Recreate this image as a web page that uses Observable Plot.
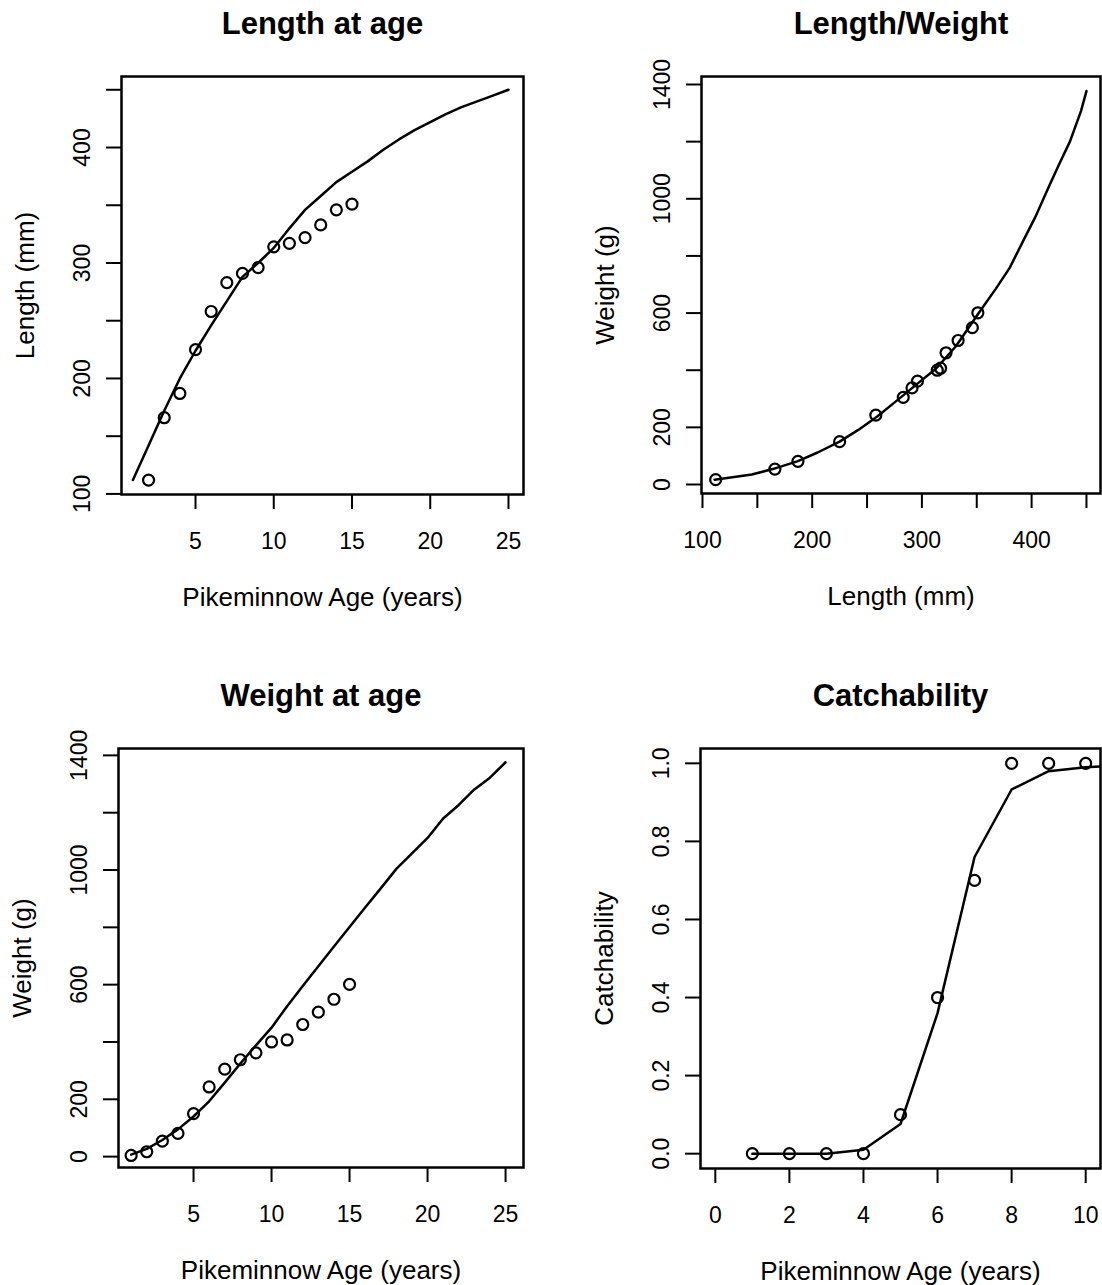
<!DOCTYPE html>
<html><head><meta charset="utf-8">
<script src="https://cdn.jsdelivr.net/npm/d3@7"></script>
<script src="https://cdn.jsdelivr.net/npm/@observablehq/plot@0.6"></script>
<style>
body{margin:0;background:#fff;}
#root{position:relative;width:1102px;height:1285px;overflow:hidden;background:#fff;}
.panel{position:absolute;}
</style></head><body><div id="root"></div>
<script>
// ---- data ----
const ageLine = [1,2,3,4,5,6,7,8,9,10,11,12,13,14,15,16,17,18,19,20,21,22,23,24,25];
const lengthPred = [112,142,172,200,224,246,267,288,300,313,330,346,358,370,379,388,398,407,415,422,429,435,440,445,450];
const weightPred = [7,27,58,95,140,193,258,325,388,450,525,595,664,733,801,869,936,1004,1058,1112,1180,1227,1281,1322,1376];

const ageObsLength = [2,3,4,5,6,7,8,9,10,11,12,13,14,15];
const lengthObs = [112,166,187,225,258,283,291,296,314,317,322,333,346,351];
const ageObsWeight = [1,2,3,4,5,6,7,8,9,10,11,12,13,14,15];
const weightObs = [4,17,54,81,150,243,305,338,362,400,407,461,504,549,601];

const lwLength = [111,145,164,187,205,225,242,259,276,296,313,331,351,367,380,393,403,416,425,435,445,450];
const lwWeight = [17,35,54,82,112,150,191,237,290,353,406,484,596,683,758,858,933,1045,1120,1201,1307,1377];

const catchAge = [1,2,3,4,5,6,7,8,9,10];
const catchObs = [0,0,0,0,0.1,0.4,0.7,1,1,1];
const catchLineAge = [1,2,3,4,5,6,7,8,9,10,11];
const catchPred = [0,0,0,0.01,0.076,0.36,0.76,0.933,0.98,0.99,0.995];

// ticks
const p1XTicks = [5,10,15,20,25];
const p1YTicks = [100,150,200,250,300,350,400,450];
const p1YLabels = [100,200,300,400];
const p2XTicks = [100,150,200,250,300,350,400,450];
const p2XLabels = [100,200,300,400];
const wYTicks = [0,200,400,600,800,1000,1200,1400];
const wYLabels = [0,200,600,1000,1400];
const p4XTicks = [0,2,4,6,8,10];
const p4YTicks = [0,0.2,0.4,0.6,0.8,1.0];

const FONT = "'Liberation Sans', Arial, Helvetica, sans-serif";

function panel(o) {
  const lineData = o.lineX.map((x, i) => ({x, y: o.lineY[i]}));
  const ptData = o.ptX.map((x, i) => ({x, y: o.ptY[i]}));
  const fmtY = o.yFormat || (d => String(d));
  const fmtX = o.xFormat || (d => String(d));
  const chart = Plot.plot({
    width: o.width, height: o.height,
    marginTop: o.m[0], marginRight: o.m[1], marginBottom: o.m[2], marginLeft: o.m[3],
    x: {domain: o.xDomain},
    y: {domain: o.yDomain},
    style: {fontFamily: FONT, background: "transparent", color: "black"},
    marks: [
      Plot.axisX(o.xTicks, {anchor: "bottom", tickSize: 15, strokeWidth: 2, fill: "none", label: null}),
      Plot.axisY(o.yTicks, {anchor: "left", tickSize: 15, strokeWidth: 2, fill: "none", label: null}),
      Plot.text(o.xLabels, {x: d => d, text: d => fmtX(d), frameAnchor: "bottom", dy: 47, fontSize: 23, lineAnchor: "middle", textAnchor: "middle", fill: "black"}),
      Plot.text(o.yLabels, {y: d => d, text: d => fmtY(d), frameAnchor: "left", dx: -39, rotate: -90, fontSize: 23, lineAnchor: "middle", textAnchor: "middle", fill: "black"}),
      Plot.text([o.xTitle], {text: d => d, frameAnchor: "bottom", dy: 103, fontSize: 26, lineAnchor: "middle", fill: "black"}),
      Plot.text([o.yTitle], {text: d => d, frameAnchor: "left", dx: -96, rotate: -90, fontSize: 26, lineAnchor: "middle", textAnchor: "middle", fill: "black"}),
      Plot.text([o.title], {text: d => d, frameAnchor: "top", dy: -52, fontSize: 31, fontWeight: "bold", lineAnchor: "middle", fill: "black"}),
      Plot.line(lineData, {x: "x", y: "y", stroke: "black", strokeWidth: 2.5, clip: true}),
      Plot.dot(ptData, {x: "x", y: "y", r: 5.5, stroke: "black", strokeWidth: 2.2, fill: "none"}),
      Plot.frame({stroke: "black", strokeWidth: 2.5})
    ]
  });
  const div = document.createElement("div");
  div.className = "panel";
  div.style.left = o.left + "px";
  div.style.top = o.top + "px";
  div.appendChild(chart);
  document.getElementById("root").appendChild(div);
}

panel({
  left: 0, top: 0, width: 551, height: 640, m: [76, 28, 146, 121],
  xDomain: [0.27, 25.96], yDomain: [99.5, 461.5],
  xTicks: p1XTicks, xLabels: p1XTicks, yTicks: p1YTicks, yLabels: p1YLabels,
  title: "Length at age", xTitle: "Pikeminnow Age (years)", yTitle: "Length (mm)",
  lineX: ageLine, lineY: lengthPred, ptX: ageObsLength, ptY: lengthObs
});

panel({
  left: 551, top: 0, width: 551, height: 640, m: [76, 2, 147, 150],
  xDomain: [99.1, 462.8], yDomain: [-31.5, 1428],
  xTicks: p2XTicks, xLabels: p2XLabels, yTicks: wYTicks, yLabels: wYLabels,
  title: "Length/Weight", xTitle: "Length (mm)", yTitle: "Weight (g)",
  lineX: lwLength, lineY: lwWeight, ptX: lengthObs, ptY: weightObs.slice(1)
});

panel({
  left: 0, top: 640, width: 551, height: 645, m: [108, 28, 118, 118],
  xDomain: [0.19, 26.15], yDomain: [-38, 1424],
  xTicks: p1XTicks, xLabels: p1XTicks, yTicks: wYTicks, yLabels: wYLabels,
  title: "Weight at age", xTitle: "Pikeminnow Age (years)", yTitle: "Weight (g)",
  lineX: ageLine, lineY: weightPred, ptX: ageObsWeight, ptY: weightObs
});

panel({
  left: 551, top: 640, width: 551, height: 645, m: [108, 2, 117, 149],
  xDomain: [-0.4, 10.4], yDomain: [-0.038, 1.038],
  xTicks: p4XTicks, xLabels: p4XTicks, yTicks: p4YTicks, yLabels: p4YTicks,
  yFormat: d3.format(".1f"),
  title: "Catchability", xTitle: "Pikeminnow Age (years)", yTitle: "Catchability",
  lineX: catchLineAge, lineY: catchPred, ptX: catchAge, ptY: catchObs
});
</script>
</body></html>
